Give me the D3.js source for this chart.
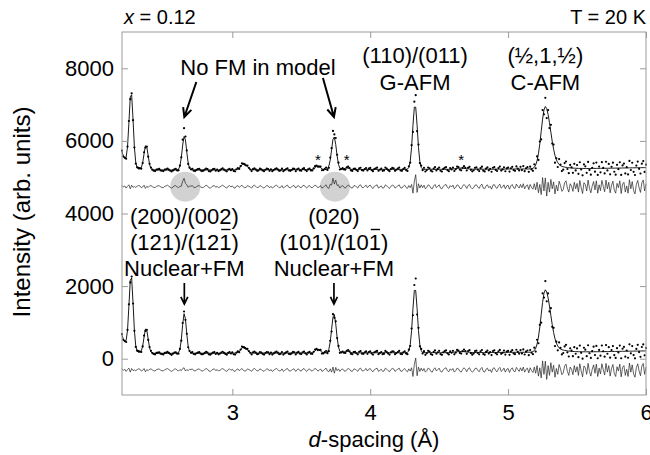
<!DOCTYPE html>
<html lang="en">
<head>
<meta charset="utf-8">
<title>x = 0.12, T = 20 K</title>
<script src="https://d3js.org/d3.v7.min.js"></script>
<style>
  body { margin: 0; background: #fff; }
  svg text { font-family: "Liberation Sans", Arial, Helvetica, sans-serif; fill: #000; }
</style>
</head>
<body>
<script>

// d-spacing grid of the pattern (Angstrom)
var dStart = 2.2, dStep = 0.01;

// calculated profile, model with FM (one row = 0.1 A)
var calcFM = [
  650,530,467,500,783,1448,2160,2223,1540,768,
  344,211,176,179,215,348,597,816,786,536,
  299,187,156,150,148,148,148,148,148,148,
  148,148,148,148,148,148,148,148,148,148,
  148,170,258,517,944,1240,1101,678,336,192,
  156,150,150,150,150,150,150,150,150,150,
  150,150,150,150,150,150,150,150,150,150,
  150,150,151,151,151,152,152,152,152,153,
  153,153,153,159,172,199,243,293,328,328,
  293,243,199,172,159,155,155,155,155,155,
  155,155,155,155,155,155,155,155,155,155,
  155,155,155,155,155,155,155,155,155,155,
  155,155,156,156,156,157,157,157,157,158,
  158,158,158,158,158,158,158,158,165,181,
  213,250,268,250,213,181,165,159,162,181,
  258,462,810,1146,1217,960,588,321,202,166,
  169,183,200,208,200,183,169,162,160,160,
  160,160,161,161,162,162,163,163,164,164,
  165,165,165,165,165,165,165,165,165,165,
  165,165,165,165,165,165,165,165,165,165,
  165,165,165,165,165,165,165,174,219,380,
  771,1377,1880,1880,1377,771,380,219,174,167,
  167,167,167,167,167,167,167,167,167,167,
  167,167,167,167,167,167,167,167,172,174,
  177,181,186,191,196,199,200,198,194,189,
  184,180,176,173,171,170,170,170,170,170,
  170,170,170,170,170,170,170,170,170,170,
  170,171,171,172,172,173,173,174,174,175,
  175,176,176,176,176,176,176,176,176,176,
  176,176,176,176,176,178,180,184,196,224,
  286,402,596,874,1212,1550,1803,1898,1840,1678,
  1452,1192,939,720,549,430,351,299,267,248,
  237,229,222,216,211,207,203,200,198,196,
  194,193,192,192,191,191,190,190,190,190,
  190,191,191,192,192,193,193,194,194,195,
  195,196,196,197,198,198,199,200,200,201,
  202,202,203,204,204,205,206,206,207,208,
  208,209,210,210,211,212,212,213,214,214,
  215
];

// observed minus calculated, FM model
var diffFM = [
  30,-10,20,-40,10,50,-60,40,-20,0,
  -20,10,30,20,-30,-10,40,-50,10,-20,
  20,30,0,-20,-30,10,20,30,-10,-20,
  -30,10,20,40,10,-20,-40,-10,20,30,
  -10,-30,10,-20,40,60,-30,10,-20,20,
  10,30,-20,-30,0,20,30,-10,-30,-20,
  10,40,20,-30,-40,-10,20,30,-20,10,
  -30,-10,20,40,10,-20,-40,10,30,-10,
  20,-30,-40,10,30,-20,10,40,-10,-30,
  -20,30,10,-10,-40,20,40,10,-30,-20,
  30,10,-20,-40,0,30,20,-30,10,-40,
  -10,20,40,10,-30,-20,30,-40,-10,20,
  40,-20,-30,-10,30,20,-40,10,30,-20,
  -30,20,40,-10,-40,10,30,-20,-30,10,
  40,20,-30,-10,30,-40,-20,20,50,-30,
  -50,30,-60,80,-90,70,-20,30,-40,10,
  30,-20,-40,10,40,20,-30,-40,20,30,
  -10,-40,30,50,-20,-30,10,40,-30,20,
  40,-20,-50,10,30,50,-40,-10,20,-40,
  -30,50,20,-20,-50,10,40,30,-40,-10,
  20,50,-30,-40,10,40,-20,-50,30,-30,
  60,-180,150,330,-160,80,-40,50,-30,40,
  -60,-20,50,30,-40,-60,20,60,-30,10,
  50,-40,-60,10,40,60,-20,-50,30,-10,
  40,-60,-20,50,30,-40,-60,10,60,20,
  -50,30,60,-20,-60,-30,40,50,-10,-50,
  30,70,-40,-60,20,50,-30,10,-70,40,
  60,-20,-50,30,70,-40,-10,50,-60,20,
  40,-70,20,60,-30,-50,70,10,-40,60,
  -30,80,-60,20,50,-80,60,-20,-70,80,
  -90,120,-170,60,-220,250,-120,240,-260,120,
  -150,200,-60,130,-200,40,-120,150,30,-130,
  -80,110,160,-40,-150,80,20,-130,120,-60,
  90,-150,170,-30,-190,110,60,-120,180,-40,
  -170,20,140,-90,160,-180,50,-110,170,10,
  -140,180,-60,120,-170,40,150,-100,-180,90,
  -30,160,-190,70,120,-150,20,-180,190,-60,
  140,-110,-200,60,170,-30,-160,110,180,-120,
  80
];

// FM intensity missing from the upper model: [d, counts]
var fmPart = [
  [2.63, 30], [2.64, 110], [2.65, 170], [2.66, 120], [2.67, 40],
  [3.71, 40], [3.72, 100], [3.73, 150], [3.74, 160], [3.75, 110], [3.76, 50], [3.77, 20]
];

var offsetUpper = 5050, offsetLower = 0, diffShift = -310;
var xTicks = [3, 4, 5, 6];
var yTicks = [0, 2000, 4000, 6000, 8000];
var starD = [3.62, 3.83, 4.66], starLevel = 5340;

var upperD = [4.325, 5.27];
var upperLines = [["(110)/(011)", "G-AFM"], ["(\u00bd,1,\u00bd)", "C-AFM"]];
var lowerD = [2.652, 3.737];
var lowerLines = [["(200)/(002)", "(121)/(121)", "Nuclear+FM"], ["(020)", "(101)/(101)", "Nuclear+FM"]];

// size and frame
var w = 650, h = 455;
var frame = {left: 122, right: 646, top: 32, bottom: 395};

var svg = d3.select("body").append("svg")
    .attr("width", w)
    .attr("height", h);

var x = d3.scaleLinear().domain([2.2, 6]).range([frame.left, frame.right]);
var y = d3.scaleLinear().domain([-1000, 9000]).range([frame.bottom, frame.top]);

// build rows
var fmAt = {};
fmPart.forEach(function(p){ fmAt[Math.round((p[0] - dStart) / dStep)] = p[1]; });

var rows = calcFM.map(function(c, i){
  var fm = fmAt[i] || 0;
  var obs = c + diffFM[i];
  return { d: dStart + i * dStep, calc: c, obs: obs, diff: diffFM[i],
           calcNo: c - fm, diffNo: diffFM[i] + fm };
});

// grey circles behind the upper difference curve
svg.append("g").selectAll("circle")
  .data(lowerD)
  .enter().append("circle")
    .attr("cx", function(d){ return x(d) + 1; })
    .attr("cy", y(offsetUpper + diffShift))
    .attr("r", 15)
    .attr("fill", "#d2d2d2");

// patterns
var patterns = [
  { off: offsetUpper, calc: "calcNo", diff: "diffNo" },
  { off: offsetLower, calc: "calc", diff: "diff" }
];

var plot = svg.append("g");

patterns.forEach(function(p){
  var diffLine = d3.line()
      .x(function(r){ return x(r.d); })
      .y(function(r){ return y(p.off + diffShift + r[p.diff]); });
  var calcLine = d3.line()
      .x(function(r){ return x(r.d); })
      .y(function(r){ return y(p.off + r[p.calc]); });

  plot.append("path")
      .attr("d", diffLine(rows))
      .attr("fill", "none")
      .attr("stroke", "#222")
      .attr("stroke-width", 0.7);

  plot.append("path")
      .attr("d", calcLine(rows))
      .attr("fill", "none")
      .attr("stroke", "#000")
      .attr("stroke-width", 0.9);

  plot.append("g").selectAll("circle")
    .data(rows)
    .enter().append("circle")
      .attr("cx", function(r){ return x(r.d); })
      .attr("cy", function(r){ return y(p.off + r.obs); })
      .attr("r", 1.1)
      .attr("fill", "#000");
});

// impurity stars
svg.append("g").selectAll("text")
  .data(starD)
  .enter().append("text")
    .attr("x", function(d){ return x(d); })
    .attr("y", y(starLevel))
    .attr("text-anchor", "middle")
    .style("font-size", "15px")
    .text("*");

// frame and axes
svg.append("rect")
    .attr("x", frame.left).attr("y", frame.top)
    .attr("width", frame.right - frame.left).attr("height", frame.bottom - frame.top)
    .attr("fill", "none")
    .attr("stroke", "#9a9a9a")
    .attr("stroke-width", 1);

function styleAxis(g){
  g.select(".domain").remove();
  g.selectAll(".tick line").attr("stroke", "#9a9a9a");
  g.selectAll(".tick text")
    .style("font-family", '"Liberation Sans", Arial, sans-serif')
    .style("font-size", "22px")
    .attr("fill", "#000");
}

svg.append("g")
    .attr("transform", "translate(" + frame.left + ",0)")
    .call(d3.axisLeft(y).tickValues(yTicks).tickSize(-6).tickPadding(8).tickFormat(d3.format("d")))
    .call(styleAxis);

svg.append("g")
    .attr("transform", "translate(" + frame.right + ",0)")
    .call(d3.axisRight(y).tickValues(yTicks).tickSize(-6).tickFormat(""))
    .call(styleAxis);

svg.append("g")
    .attr("transform", "translate(0," + frame.bottom + ")")
    .call(d3.axisBottom(x).tickValues(xTicks).tickSize(-6).tickPadding(9).tickFormat(d3.format("d")))
    .call(styleAxis);

svg.append("g")
    .attr("transform", "translate(0," + frame.top + ")")
    .call(d3.axisTop(x).tickValues(xTicks).tickSize(-6).tickFormat(""))
    .call(styleAxis);

// axis titles
var xt = svg.append("text")
    .attr("x", 374).attr("y", 447)
    .attr("text-anchor", "middle")
    .style("font-size", "22px");
xt.append("tspan").style("font-style", "italic").text("d");
xt.append("tspan").text("-spacing (\u00c5)");

svg.append("text")
    .attr("transform", "translate(30,212) rotate(-90)")
    .attr("text-anchor", "middle")
    .style("font-size", "24px")
    .text("Intensity (arb. units)");

// top labels
var xl = svg.append("text")
    .attr("x", 124).attr("y", 24)
    .style("font-size", "20px");
xl.append("tspan").style("font-style", "italic").text("x");
xl.append("tspan").text(" = 0.12");

svg.append("text")
    .attr("x", 646).attr("y", 24)
    .attr("text-anchor", "end")
    .style("font-size", "20px")
    .text("T = 20 K");

// annotations
var ann = svg.append("g").style("font-size", "22px");

ann.append("text")
    .attr("x", 258).attr("y", 75)
    .attr("text-anchor", "middle")
    .text("No FM in model");

upperD.forEach(function(d, i){
  upperLines[i].forEach(function(t, k){
    ann.append("text")
        .attr("x", x(d)).attr("y", 63 + k * 27)
        .attr("text-anchor", "middle")
        .text(t);
  });
});

lowerD.forEach(function(d, i){
  lowerLines[i].forEach(function(t, k){
    var tx = ann.append("text")
        .attr("x", x(d)).attr("y", 224 + k * 26)
        .attr("text-anchor", "middle")
        .text(t);
    if (k === 1) {
      // bar over the last index
      var e = tx.node().getExtentOfChar(9);
      var by = 224 + k * 26 - 20.5;
      ann.append("line")
          .attr("x1", e.x + 2).attr("x2", e.x + e.width - 1)
          .attr("y1", by).attr("y2", by)
          .attr("stroke", "#000")
          .attr("stroke-width", 1.4);
    }
  });
});

function arrow(x1, y1, x2, y2, head, sw){
  var a = Math.atan2(y2 - y1, x2 - x1);
  var p = d3.path();
  p.moveTo(x1, y1); p.lineTo(x2, y2);
  p.moveTo(x2 - head * Math.cos(a - 0.45), y2 - head * Math.sin(a - 0.45));
  p.lineTo(x2, y2);
  p.lineTo(x2 - head * Math.cos(a + 0.45), y2 - head * Math.sin(a + 0.45));
  svg.append("path")
      .attr("d", p.toString())
      .attr("fill", "none")
      .attr("stroke", "#000")
      .attr("stroke-width", sw);
}

arrow(x(lowerD[0]) + 12, 82, x(lowerD[0]), 117, 10, 2);
arrow(x(lowerD[1]) - 11, 78, x(lowerD[1]), 117, 10, 2);
arrow(x(lowerD[0]), 283, x(lowerD[0]), 304, 8, 1.7);
arrow(x(lowerD[1]), 283, x(lowerD[1]), 304, 8, 1.7);

</script>
</body>
</html>
